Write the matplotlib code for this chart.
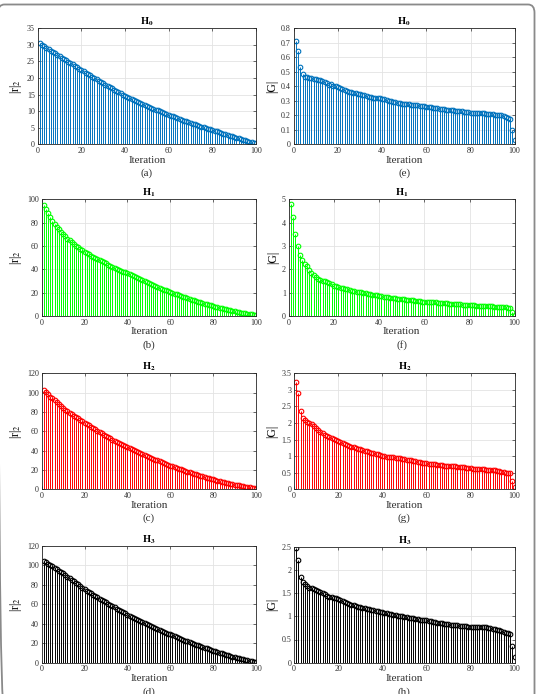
#!/usr/bin/env python3
# stem plots of residual norm and gradient norm per iteration
import matplotlib
matplotlib.use("Agg")
import matplotlib.pyplot as plt
from matplotlib.patches import FancyBboxPatch
from matplotlib.ticker import FormatStrFormatter

plt.rcParams['font.family'] = ['Liberation Serif', 'DejaVu Serif']
plt.rcParams['mathtext.fontset'] = 'stix'

iterations = list(range(1, 101))

r_h0 = [30.5, 30.0, 29.6, 29.1, 28.7, 28.3, 27.8, 27.4, 26.9, 26.5,
        26.1, 25.7, 25.3, 24.9, 24.5, 24.1, 23.6, 23.2, 22.8, 22.4,
        22.0, 21.6, 21.2, 20.8, 20.4, 20.0, 19.6, 19.2, 18.8, 18.4,
        18.0, 17.6, 17.3, 16.9, 16.5, 16.1, 15.7, 15.4, 15.0, 14.6,
        14.3, 14.0, 13.7, 13.4, 13.1, 12.8, 12.5, 12.2, 11.9, 11.6,
        11.3, 11.1, 10.8, 10.5, 10.2, 10.0, 9.7, 9.4, 9.2, 8.9,
        8.6, 8.4, 8.1, 7.9, 7.6, 7.4, 7.1, 6.9, 6.6, 6.4,
        6.2, 6.0, 5.8, 5.6, 5.3, 5.1, 4.9, 4.7, 4.5, 4.3,
        4.1, 3.9, 3.7, 3.5, 3.2, 3.0, 2.8, 2.6, 2.4, 2.2,
        2.0, 1.8, 1.6, 1.4, 1.2, 1.0, 0.8, 0.6, 0.45, 0.3]

r_h1 = [95.0, 91.5, 88.0, 84.8, 81.8, 79.1, 76.6, 74.2, 72.0, 70.0,
        68.2, 66.4, 64.7, 63.1, 61.6, 60.2, 58.8, 57.5, 56.2, 55.0,
        53.9, 52.8, 51.7, 50.7, 49.7, 48.7, 47.7, 46.8, 45.9, 45.0,
        44.1, 43.2, 42.3, 41.4, 40.6, 39.7, 38.9, 38.1, 37.3, 36.5,
        35.6, 34.8, 33.9, 33.1, 32.2, 31.4, 30.5, 29.7, 28.8, 28.0,
        27.2, 26.5, 25.7, 25.0, 24.2, 23.5, 22.7, 22.0, 21.2, 20.5,
        19.8, 19.2, 18.5, 17.9, 17.2, 16.6, 15.9, 15.3, 14.6, 14.0,
        13.4, 12.8, 12.3, 11.7, 11.2, 10.6, 10.1, 9.5, 9.0, 8.5,
        8.0, 7.5, 7.0, 6.6, 6.1, 5.7, 5.3, 4.8, 4.4, 4.0,
        3.6, 3.3, 2.9, 2.6, 2.3, 2.0, 1.7, 1.4, 1.1, 0.8]

r_h2 = [102.5, 100.3, 98.2, 96.0, 94.0, 91.9, 89.9, 87.9, 85.9, 84.0,
        82.4, 80.8, 79.3, 77.8, 76.3, 74.8, 73.3, 71.8, 70.4, 69.0,
        67.6, 66.2, 64.8, 63.4, 62.0, 60.6, 59.2, 57.8, 56.4, 55.0,
        53.8, 52.7, 51.5, 50.4, 49.2, 48.1, 46.9, 45.8, 44.6, 43.5,
        42.5, 41.5, 40.5, 39.5, 38.5, 37.5, 36.5, 35.5, 34.5, 33.5,
        32.6, 31.7, 30.8, 29.9, 29.0, 28.1, 27.2, 26.3, 25.4, 24.5,
        23.7, 23.0, 22.2, 21.4, 20.7, 19.9, 19.1, 18.4, 17.6, 16.8,
        16.1, 15.5, 14.8, 14.2, 13.5, 12.8, 12.2, 11.5, 10.9, 10.2,
        9.7, 9.1, 8.6, 8.0, 7.5, 6.9, 6.4, 5.9, 5.3, 4.8,
        4.4, 4.0, 3.6, 3.1, 2.7, 2.3, 1.9, 1.5, 1.1, 0.7]

r_h3 = [104.5, 103.2, 101.8, 100.4, 99.0, 97.6, 96.2, 94.8, 93.4, 92.0,
        90.3, 88.6, 87.0, 85.3, 83.7, 82.1, 80.5, 78.8, 77.2, 75.5,
        74.2, 72.8, 71.5, 70.1, 68.8, 67.4, 66.0, 64.7, 63.3, 62.0,
        60.7, 59.5, 58.2, 57.0, 55.7, 54.5, 53.2, 52.0, 50.7, 49.5,
        48.4, 47.3, 46.2, 45.1, 44.0, 42.9, 41.8, 40.7, 39.6, 38.5,
        37.5, 36.6, 35.6, 34.7, 33.7, 32.8, 31.8, 30.9, 29.9, 29.0,
        28.1, 27.2, 26.3, 25.4, 24.5, 23.6, 22.7, 21.8, 20.9, 20.0,
        19.2, 18.5, 17.7, 17.0, 16.2, 15.5, 14.7, 14.0, 13.2, 12.5,
        11.8, 11.1, 10.4, 9.7, 9.0, 8.3, 7.6, 6.9, 6.2, 5.5,
        5.0, 4.5, 4.0, 3.5, 3.0, 2.6, 2.1, 1.7, 1.2, 0.8]

g_h0 = [0.715, 0.640, 0.530, 0.485, 0.467, 0.462, 0.460, 0.456, 0.453, 0.450,
        0.446, 0.441, 0.437, 0.430, 0.420, 0.412, 0.413, 0.405, 0.399, 0.393,
        0.386, 0.380, 0.374, 0.368, 0.363, 0.360, 0.356, 0.352, 0.349, 0.347,
        0.343, 0.338, 0.332, 0.327, 0.324, 0.322, 0.321, 0.319, 0.317, 0.315,
        0.311, 0.306, 0.301, 0.297, 0.294, 0.290, 0.286, 0.283, 0.280, 0.278,
        0.277, 0.275, 0.273, 0.271, 0.270, 0.268, 0.266, 0.264, 0.262, 0.260,
        0.258, 0.255, 0.252, 0.250, 0.248, 0.246, 0.244, 0.241, 0.239, 0.237,
        0.236, 0.235, 0.233, 0.231, 0.230, 0.227, 0.225, 0.222, 0.220, 0.218,
        0.217, 0.217, 0.216, 0.215, 0.214, 0.213, 0.212, 0.210, 0.208, 0.207,
        0.205, 0.204, 0.203, 0.200, 0.195, 0.188, 0.180, 0.172, 0.100, 0.030]

g_h1 = [4.78, 4.26, 3.50, 3.00, 2.60, 2.38, 2.23, 2.13, 1.98, 1.84,
        1.74, 1.65, 1.60, 1.55, 1.51, 1.48, 1.44, 1.40, 1.35, 1.30,
        1.27, 1.24, 1.21, 1.18, 1.16, 1.14, 1.11, 1.09, 1.06, 1.04,
        1.02, 1.01, 0.99, 0.98, 0.96, 0.94, 0.92, 0.91, 0.89, 0.87,
        0.85, 0.83, 0.81, 0.80, 0.78, 0.77, 0.76, 0.74, 0.73, 0.72,
        0.71, 0.70, 0.69, 0.69, 0.68, 0.66, 0.65, 0.64, 0.62, 0.61,
        0.60, 0.60, 0.59, 0.58, 0.58, 0.57, 0.56, 0.55, 0.55, 0.54,
        0.53, 0.53, 0.52, 0.52, 0.51, 0.50, 0.49, 0.48, 0.47, 0.46,
        0.45, 0.45, 0.44, 0.44, 0.43, 0.43, 0.42, 0.42, 0.41, 0.41,
        0.40, 0.40, 0.39, 0.39, 0.38, 0.37, 0.36, 0.35, 0.15, 0.06]

g_h2 = [3.25, 2.90, 2.37, 2.16, 2.09, 2.04, 2.00, 1.97, 1.90, 1.84,
        1.79, 1.74, 1.70, 1.65, 1.61, 1.58, 1.54, 1.51, 1.49, 1.47,
        1.44, 1.41, 1.38, 1.34, 1.31, 1.29, 1.27, 1.25, 1.23, 1.21,
        1.19, 1.17, 1.15, 1.13, 1.11, 1.09, 1.07, 1.05, 1.02, 1.00,
        0.99, 0.98, 0.98, 0.97, 0.97, 0.95, 0.94, 0.93, 0.91, 0.90,
        0.89, 0.88, 0.87, 0.86, 0.85, 0.83, 0.82, 0.80, 0.79, 0.78,
        0.77, 0.76, 0.75, 0.75, 0.74, 0.73, 0.72, 0.71, 0.71, 0.70,
        0.70, 0.69, 0.69, 0.68, 0.68, 0.67, 0.66, 0.65, 0.64, 0.63,
        0.62, 0.62, 0.61, 0.61, 0.60, 0.60, 0.59, 0.59, 0.58, 0.58,
        0.57, 0.56, 0.55, 0.53, 0.52, 0.50, 0.49, 0.48, 0.25, 0.08]

g_h3 = [2.48, 2.21, 1.85, 1.73, 1.69, 1.65, 1.62, 1.60, 1.58, 1.57,
        1.55, 1.53, 1.50, 1.47, 1.44, 1.42, 1.41, 1.40, 1.39, 1.38,
        1.35, 1.32, 1.30, 1.29, 1.27, 1.25, 1.24, 1.22, 1.20, 1.19,
        1.18, 1.17, 1.16, 1.15, 1.14, 1.13, 1.12, 1.11, 1.10, 1.09,
        1.08, 1.07, 1.06, 1.04, 1.03, 1.02, 1.01, 1.00, 1.00, 0.99,
        0.98, 0.97, 0.96, 0.96, 0.95, 0.94, 0.93, 0.93, 0.92, 0.91,
        0.90, 0.89, 0.88, 0.87, 0.86, 0.86, 0.85, 0.84, 0.84, 0.83,
        0.82, 0.82, 0.81, 0.81, 0.80, 0.80, 0.79, 0.79, 0.78, 0.78,
        0.77, 0.77, 0.76, 0.76, 0.76, 0.76, 0.76, 0.75, 0.74, 0.73,
        0.72, 0.71, 0.70, 0.69, 0.67, 0.65, 0.63, 0.62, 0.36, 0.12]

titles = [r'$\mathbf{H_0}$', r'$\mathbf{H_1}$', r'$\mathbf{H_2}$', r'$\mathbf{H_3}$']
colors = ['#0072BD', '#00FF00', '#FF0000', '#000000']
x_ticks = [0, 20, 40, 60, 80, 100]

# (series, title index, ylabel, ymax, ystep, left, right, top, bottom, letter) - pixels
panels = [
    (r_h0, 0, '|r|$_2$', 35, 5, 37.7, 256, 28.3, 144.3, '(a)'),
    (r_h1, 1, '|r|$_2$', 100, 20, 41.7, 256, 199.3, 316, '(b)'),
    (r_h2, 2, '|r|$_2$', 120, 20, 41.7, 256, 373.3, 489.3, '(c)'),
    (r_h3, 3, '|r|$_2$', 120, 20, 41.7, 256, 546, 662.7, '(d)'),
    (g_h0, 0, '|G|', 0.8, 0.1, 293.7, 514.7, 28.3, 144.3, '(e)'),
    (g_h1, 1, '|G|', 5, 1, 288.7, 514.7, 199.3, 316, '(f)'),
    (g_h2, 2, '|G|', 3.5, 0.5, 294, 514.7, 373.3, 489.3, '(g)'),
    (g_h3, 3, '|G|', 2.5, 0.5, 294, 514.7, 546.7, 662.7, '(h)'),
]

W, H = 536, 694
fig = plt.figure(figsize=(W / 100, H / 100), dpi=100)

# outer frame
frame = FancyBboxPatch((-2 / W, -20 / H), 536.5 / W, (H - 4.5 + 20) / H,
                       boxstyle='round,pad=0,rounding_size=0.012',
                       transform=fig.transFigure, fill=False,
                       edgecolor='#8a8a8a', linewidth=1.3)
fig.patches.append(frame)

for ys, k, ylab, ymax, ystep, l, r, t, b, letter in panels:
    ax = fig.add_axes([l / W, 1 - b / H, (r - l) / W, (b - t) / H])
    c = colors[k]
    ml, sl, bl = ax.stem(iterations, ys, basefmt=' ')
    plt.setp(sl, color=c, linewidth=0.7)
    plt.setp(ml, color=c, marker='o', markersize=3.3,
             markerfacecolor='none', markeredgewidth=0.8)
    ax.set_xlim(0, 100)
    ax.set_ylim(0, ymax)
    ax.set_xticks(x_ticks)
    n = int(round(ymax / ystep))
    ax.set_yticks([i * ystep for i in range(n + 1)])
    ax.yaxis.set_major_formatter(FormatStrFormatter('%g'))
    ax.grid(True, color='#e3e3e3', linewidth=0.6)
    ax.set_axisbelow(True)
    ax.tick_params(direction='in', length=2, width=0.5, labelsize=5.8,
                   top=True, right=True, pad=2, colors='#303030')
    for s in ax.spines.values():
        s.set_linewidth(0.6)
        s.set_color('#262626')
    ax.set_title(titles[k], fontsize=7.5, pad=2.5)
    ax.set_ylabel(ylab, fontsize=8.5, labelpad=2)
    # x label and panel letter placed in pixels below the axes
    cx = (l + r) / 2 / W
    fig.text(cx, 1 - (b + 16) / H, 'Iteration', ha='center', va='center',
             fontsize=8, color='#303030')
    fig.text(cx, 1 - (b + 29) / H, letter, ha='center', va='center',
             fontsize=8, color='#333333')

fig.savefig('out.png', dpi=100)
